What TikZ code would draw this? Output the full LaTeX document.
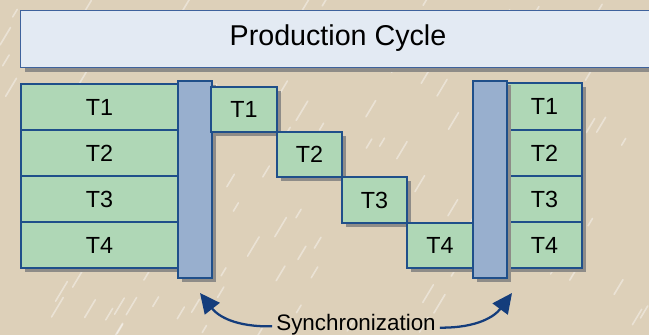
\documentclass[tikz,border=0pt]{standalone}
\usepackage{fontspec}
\setmainfont{Liberation Sans}
\usetikzlibrary{shadows,arrows.meta}
\definecolor{bg}{HTML}{DDD0B9}
\definecolor{tgreen}{HTML}{AFD7B6}
\definecolor{bline}{HTML}{1F4F8A}
\definecolor{barfill}{HTML}{98AFCE}
\definecolor{titlefill}{HTML}{E3EAF3}
\definecolor{titleline}{HTML}{3E629C}
\definecolor{shadowgray}{HTML}{8E8C88}
\definecolor{arrowc}{HTML}{143D7C}
\tikzset{
  shad/.style={drop shadow={shadow xshift=3pt,shadow yshift=-3pt,fill=shadowgray,opacity=1}},
  tbox/.style={draw=bline, fill=tgreen, line width=0.8pt, inner sep=0pt, outer sep=0pt,
    anchor=north west, font=\fontsize{17.5}{20}\selectfont, shad},
  barbox/.style={draw=bline, fill=barfill, line width=0.8pt, inner sep=0pt, outer sep=0pt,
    anchor=north west, minimum width={34*0.75pt}, minimum height={197*0.75pt}, shad},
  syncarrow/.style={draw=arrowc, line width=1.7pt, -{Triangle[length=15pt,width=14pt]}}
}
\begin{document}
\begin{tikzpicture}[x=0.75pt,y=-0.75pt]
\useasboundingbox (0,0) rectangle (649,335);
\fill[bg] (0,0) rectangle (649,335);
\pgfmathsetseed{7}
\foreach \i in {1,...,160}{
  \pgfmathsetmacro{\px}{rnd*660}
  \pgfmathsetmacro{\py}{rnd*345}
  \pgfmathsetmacro{\ln}{6+rnd*14}
  \draw[white, opacity=0.4, line width=1.2pt, line cap=round] (\px,\py) -- ++(\ln*0.6,-\ln);
}
% title
\node[draw=titleline, fill=titlefill, line width=0.8pt, inner sep=0pt, anchor=north west,
  minimum width={660*0.75pt}, minimum height={57*0.75pt}, shad] (title) at (20,10) {};
\node[font=\fontsize{21.5}{24}\selectfont] (titletext) at (338,38) {Production Cycle};
% left stack
\node[tbox, minimum width={157*0.75pt}, minimum height={46*0.75pt}] (l1) at (21,84) {T1};
\node[tbox, minimum width={157*0.75pt}, minimum height={46*0.75pt}] (l2) at (21,130) {T2};
\node[tbox, minimum width={157*0.75pt}, minimum height={46*0.75pt}] (l3) at (21,176) {T3};
\node[tbox, minimum width={157*0.75pt}, minimum height={46*0.75pt}] (l4) at (21,222) {T4};
\node[barbox] (lbar) at (178,81) {};
% staircase
\node[tbox, minimum width={66*0.75pt}, minimum height={45*0.75pt}] (s1) at (211,87) {T1};
\node[tbox, minimum width={65*0.75pt}, minimum height={45*0.75pt}] (s2) at (277,132) {T2};
\node[tbox, minimum width={65*0.75pt}, minimum height={46*0.75pt}] (s3) at (342,177) {T3};
\node[tbox, minimum width={66*0.75pt}, minimum height={45*0.75pt}] (s4) at (407,223) {T4};
% right stack
\node[tbox, minimum width={75*0.75pt}, minimum height={47*0.75pt}] (r1) at (507,83) {T1};
\node[tbox, minimum width={75*0.75pt}, minimum height={46*0.75pt}] (r2) at (507,130) {T2};
\node[tbox, minimum width={75*0.75pt}, minimum height={46*0.75pt}] (r3) at (507,176) {T3};
\node[tbox, minimum width={75*0.75pt}, minimum height={46*0.75pt}] (r4) at (507,222) {T4};
\node[barbox] (rbar) at (473,81) {};
% synchronization
\node[font=\fontsize{16.8}{19}\selectfont, inner sep=0pt] (sync) at (356,325) {Synchronization};
\coordinate (lt) at (200,293);
\coordinate (rt) at (512,293);
\draw[syncarrow] ([xshift=-3pt,yshift=-1pt]sync.west) .. controls (235,327) and (218,316) .. (lt);
\draw[syncarrow] ([xshift=3pt,yshift=-2pt]sync.east) .. controls (478,328) and (495,316) .. (rt);
\end{tikzpicture}
\end{document}
